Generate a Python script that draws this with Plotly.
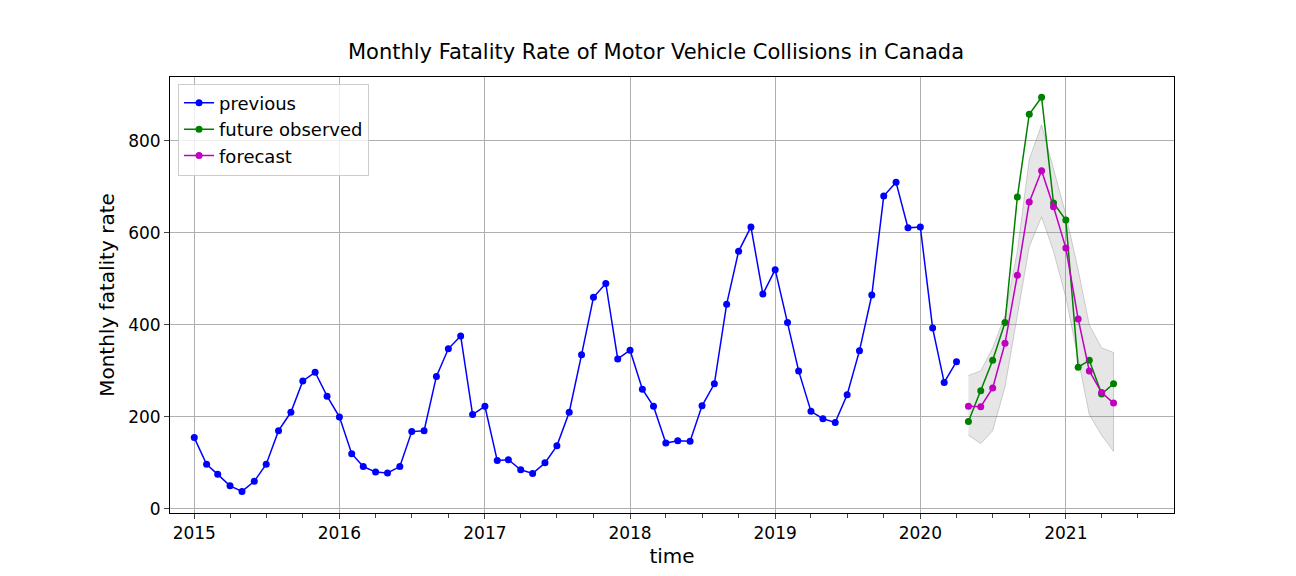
import plotly.graph_objects as go
import pandas as pd

prev_vals = [155, 97, 75, 50, 38, 60, 97, 170, 210, 278, 297, 245,
             200, 120, 92, 80, 78, 92, 168, 170, 288, 348, 376, 205,
             223, 105, 107, 85, 77, 100, 137, 210, 335, 460, 490, 326,
             345, 260, 223, 143, 148, 147, 224, 272, 445, 560, 613, 467,
             520, 405, 300, 212, 196, 188, 248, 344, 465, 680, 710, 611,
             613, 393, 275, 320]
future_vals = [190, 257, 323, 405, 678, 858, 895, 665, 628, 308, 323, 250, 272]
forecast_vals = [223, 222, 263, 360, 508, 667, 735, 657, 567, 413, 300, 253, 230]
upper = [290, 300, 350, 420, 560, 760, 835, 740, 640, 520, 400, 350, 340]
lower = [160, 142, 170, 265, 420, 570, 635, 560, 460, 330, 205, 160, 125]

prev_x = pd.date_range("2015-01-01", periods=len(prev_vals), freq="MS")
fut_x = pd.date_range("2020-05-01", periods=len(future_vals), freq="MS")

fig = go.Figure()
fig.add_trace(go.Scatter(x=list(fut_x) + list(fut_x[::-1]), y=upper + lower[::-1],
                         fill="toself", fillcolor="rgba(128,128,128,0.2)",
                         line=dict(color="rgba(128,128,128,0.35)", width=1),
                         showlegend=False, hoverinfo="skip"))
mk = dict(size=7)
fig.add_trace(go.Scatter(x=prev_x, y=prev_vals, mode="lines+markers", name="previous",
                         line=dict(color="blue", width=1.5), marker=mk))
fig.add_trace(go.Scatter(x=fut_x, y=future_vals, mode="lines+markers", name="future observed",
                         line=dict(color="green", width=1.5), marker=mk))
fig.add_trace(go.Scatter(x=fut_x, y=forecast_vals, mode="lines+markers", name="forecast",
                         line=dict(color="#bf00bf", width=1.5), marker=mk))

fig.update_layout(
    width=1296, height=576, plot_bgcolor="white", paper_bgcolor="white",
    margin=dict(l=162, r=130, t=69, b=71, autoexpand=False),
    font=dict(family="DejaVu Sans", size=17, color="black"),
    title=dict(text="Monthly Fatality Rate of Motor Vehicle Collisions in Canada",
               x=0.5, xanchor="center", y=0.925, yanchor="middle", font=dict(size=21)),
    legend=dict(x=0.008, y=0.985, xanchor="left", yanchor="top",
                bordercolor="#cccccc", borderwidth=1, bgcolor="rgba(255,255,255,0.8)",
                font=dict(size=18)),
    xaxis=dict(title=dict(text="time", standoff=6), range=["2014-11-01", "2021-09-30"],
               dtick="M12", tickformat="%Y", showgrid=True, gridcolor="#b0b0b0",
               showline=True, linecolor="black", mirror=True, ticks="outside",
               minor=dict(dtick="M3", ticks="outside", ticklen=4, showgrid=False),
               zeroline=False, automargin=False, tickfont=dict(size=17)),
    yaxis=dict(title=dict(text="Monthly fatality rate", standoff=8), range=[-9, 939],
               dtick=200, showgrid=True, gridcolor="#b0b0b0",
               showline=True, linecolor="black", mirror=True, ticks="outside",
               zeroline=False, automargin=False, tickfont=dict(size=17)),
)
fig.write_html("out.html")
